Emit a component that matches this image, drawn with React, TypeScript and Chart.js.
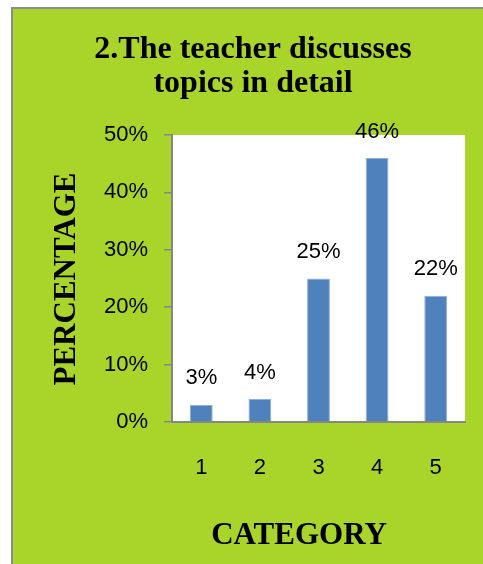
import React, { useEffect, useRef } from "react";
import { Chart, registerables } from "chart.js";

Chart.register(...registerables);

const categories = ["1", "2", "3", "4", "5"];
const values = [3, 4, 25, 46, 22];
const titleLines = ["2.The teacher discusses", "topics in detail"];
const yTitle = "PERCENTAGE";
const xTitle = "CATEGORY";
const yMax = 50;
const yStep = 10;

const GREEN = "#a9d42a";
const AXIS = "#868686";
const BAR = "#4f81bd";
const SANS = "'Liberation Sans', Arial, sans-serif";
const SERIF = "'Liberation Serif', 'Times New Roman', serif";

const decorPlugin = {
  id: "decor",
  beforeDraw(chart: any) {
    const { ctx, chartArea } = chart;
    ctx.save();
    ctx.fillStyle = "#ffffff";
    ctx.fillRect(chartArea.left, chartArea.top, chartArea.right - chartArea.left, chartArea.bottom - chartArea.top);
    ctx.restore();
  },
  afterDraw(chart: any) {
    const { ctx } = chart;
    ctx.save();
    ctx.fillStyle = "#000";
    // chart title
    ctx.font = `bold 32px ${SERIF}`;
    ctx.textAlign = "center";
    ctx.textBaseline = "alphabetic";
    ctx.fillText(titleLines[0], 240, 49);
    ctx.fillText(titleLines[1], 240, 82.5);
    // x axis title
    ctx.font = `bold 31px ${SERIF}`;
    ctx.fillText(xTitle, 286, 535);
    // y axis title
    ctx.translate(62, 270);
    ctx.rotate(-Math.PI / 2);
    ctx.fillText(yTitle, 0, 0);
    ctx.restore();

    // data labels
    const meta = chart.getDatasetMeta(0);
    ctx.save();
    ctx.font = `22px ${SANS}`;
    ctx.fillStyle = "#000";
    ctx.textAlign = "center";
    ctx.textBaseline = "middle";
    meta.data.forEach((bar: any, i: number) => {
      ctx.fillText(values[i] + "%", bar.x, bar.y - 26.5);
    });
    ctx.restore();
  },
};

export default function App() {
  const ref = useRef<HTMLCanvasElement | null>(null);
  useEffect(() => {
    if (!ref.current) return;
    const chart = new Chart(ref.current, {
      type: "bar",
      data: {
        labels: categories,
        datasets: [
          {
            data: values,
            backgroundColor: BAR,
            borderColor: "#8fb0d8",
            borderWidth: 1,
            categoryPercentage: 1,
            barPercentage: 0.39,
          },
        ],
      },
      options: {
        responsive: false,
        animation: false,
        layout: { padding: { left: 0, top: 126, right: 18, bottom: 0 } },
        plugins: {
          legend: { display: false },
          tooltip: { enabled: false },
          title: { display: false },
        },
        scales: {
          x: {
            grid: { display: false, drawTicks: false },
            border: { display: true, color: AXIS, width: 2 },
            ticks: {
              color: "#000",
              font: { family: SANS, size: 22 },
              padding: 33,
              maxRotation: 0,
              autoSkip: false,
            },
            afterFit: (s: any) => {
              s.height = 142;
            },
          },
          y: {
            min: 0,
            max: yMax,
            grid: { drawOnChartArea: false, drawTicks: true, tickLength: 8, color: AXIS, lineWidth: 1.5 },
            border: { display: true, color: AXIS, width: 2 },
            ticks: {
              stepSize: yStep,
              color: "#000",
              font: { family: SANS, size: 22 },
              padding: 16,
              callback: (v: any) => v + "%",
            },
            afterFit: (s: any) => {
              s.width = 159;
            },
          },
        },
      },
      plugins: [decorPlugin],
    });
    return () => chart.destroy();
  }, []);

  return (
    <div style={{ position: "absolute", left: 0, top: 0, width: 483, height: 564, overflow: "hidden", background: "#fff" }}>
      <div
        style={{
          position: "absolute",
          left: 11,
          top: 7,
          width: 480,
          height: 570,
          background: GREEN,
          borderLeft: "2px solid #8c8c8c",
          borderTop: "2px solid #8c8c8c",
        }}
      />
      <canvas
        ref={ref}
        width={470}
        height={555}
        style={{ position: "absolute", left: 13, top: 9, width: 470, height: 555 }}
      />
    </div>
  );
}
